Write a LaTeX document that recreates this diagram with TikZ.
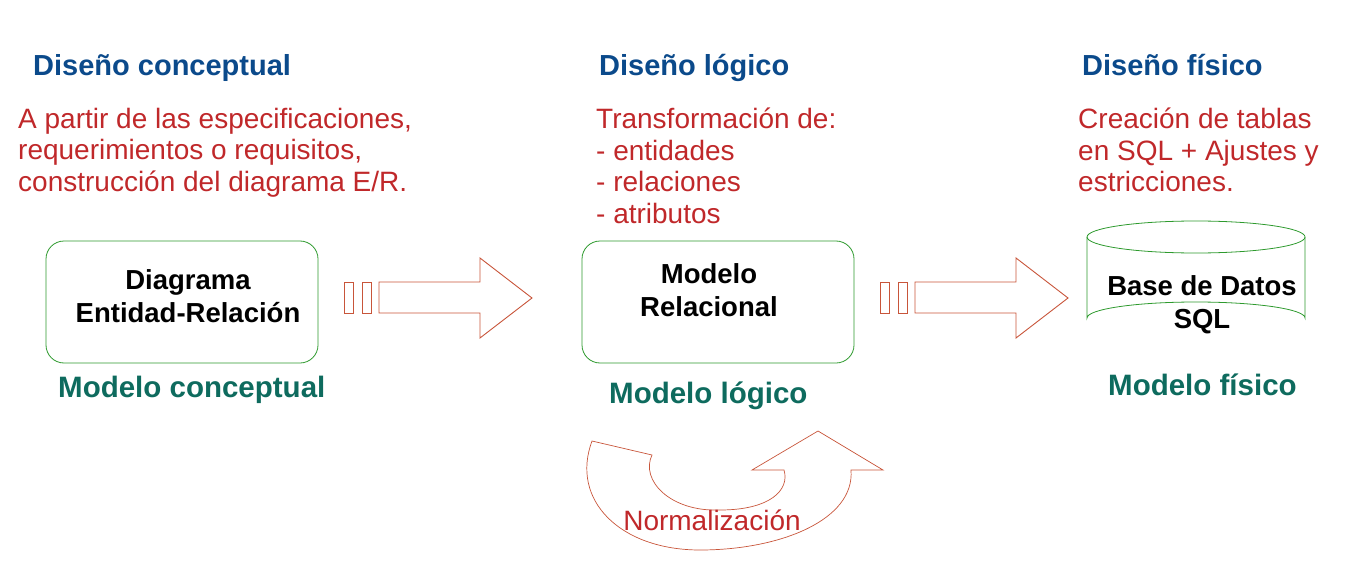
\documentclass[tikz,border=0pt]{standalone}
\usepackage{fontspec}
\setmainfont{Liberation Sans}
\begin{document}
\begin{tikzpicture}[x=1pt,y=-1pt,
 ttl/.style={anchor=base west,font=\fontsize{29}{34}\selectfont\bfseries,text=blue1,inner sep=0},
 desc/.style={anchor=north west,align=left,font=\fontsize{28}{31.5}\selectfont,text=red1,inner sep=0},
 mdl/.style={anchor=base west,font=\fontsize{29.5}{34}\selectfont\bfseries,text=green1,inner sep=0},
 box/.style={draw=green2,rounded corners=18pt,line width=0.8pt},
 btx/.style={align=center,font=\fontsize{27.5}{33}\selectfont\bfseries},
 arr/.style={draw=orange1,line width=0.9pt}]
\definecolor{blue1}{HTML}{0B4A8B}
\definecolor{red1}{HTML}{C0282A}
\definecolor{green1}{HTML}{0E6B5E}
\definecolor{green2}{HTML}{2E9A2E}
\definecolor{orange1}{HTML}{C8553A}
\useasboundingbox (0,0) rectangle (1372,588);
\node[ttl] (t1) at (33,76) {Diseño conceptual};
\node[ttl] (t2) at (599,76) {Diseño lógico};
\node[ttl] (t3) at (1082,76) {Diseño físico};
\node[desc] (d1) at (18,108) {A partir de las especificaciones,\\requerimientos o requisitos,\\construcción del diagrama E/R.};
\node[desc] (d2) at (596,108) {Transformación de:\\- entidades\\- relaciones\\- atributos};
\node[desc] (d3) at (1078,108) {Creación de tablas\\en SQL + Ajustes y\\estricciones.};
\draw[box] (46,241) rectangle (318,363);
\node[btx] (b1) at (188,296) {Diagrama\\Entidad-Relación};
\draw[box] (582,241) rectangle (854,363);
\node[btx] (b2) at (709,290) {Modelo\\Relacional};
% cylinder
\draw[green2,line width=0.8pt] (1087,237) -- (1087,318) arc[start angle=180,end angle=360,x radius=109,y radius=16] -- (1305,237);
\draw[green2,line width=0.8pt] (1196,237) ellipse[x radius=109,y radius=16];
\node[btx] (b3) at (1202,305) {Base de Datos\\SQL};
\node[mdl] (m1) at (58,397) {Modelo conceptual};
\node[mdl] (m2) at (609,403) {Modelo lógico};
\node[mdl] (m3) at (1108,395) {Modelo físico};
% block arrows
\foreach \dx in {0,536}{
 \begin{scope}[xshift=\dx]
 \draw[arr] (344,282) rectangle (353,313);
 \draw[arr] (362,282) rectangle (371,313);
 \draw[arr] (379,282) -- (480,282) -- (480,258) -- (532,298) -- (480,338) -- (480,313) -- (379,313) -- cycle;
 \end{scope}}
% curved arrow
\draw[arr,line width=0.7pt] (592,441) -- (652,455) .. controls (640,480) and (670,512) .. (720,510)
 .. controls (770,510) and (790,490) .. (784,470) -- (752,470) -- (818,431) -- (883,470) -- (851,470)
 .. controls (855,520) and (780,550) .. (700,550) .. controls (620,550) and (570,500) .. (592,441) -- cycle;
\node[font=\fontsize{28}{32}\selectfont,text=red1] (nz) at (712,520) {Normalización};
\end{tikzpicture}
\end{document}
